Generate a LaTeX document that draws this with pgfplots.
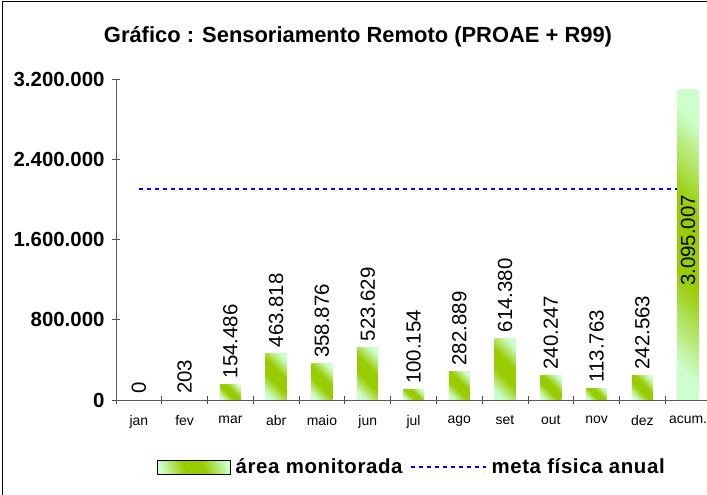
\documentclass[border=0pt]{standalone}
\usepackage{fontspec}
\setmainfont{Liberation Sans}
\usepackage{pgfplots}
\pgfplotsset{compat=1.18}
\usepackage{pgfplotstable}
\definecolor{barg}{HTML}{99CC00}
\definecolor{barl}{HTML}{CCFFCC}
\pgfdeclarehorizontalshading{barshade}{100bp}{color(0bp)=(barl); color(22bp)=(barl); color(42bp)=(barg); color(58bp)=(barg); color(78bp)=(barl); color(100bp)=(barl)}
\pgfplotstableread{
x y
0 0
1 203
2 154486
3 463818
4 358876
5 523629
6 100154
7 282889
8 614380
9 240247
10 113763
11 242563
12 3095007
}\datatable
\begin{document}
\begin{tikzpicture}
\useasboundingbox (0,0) rectangle (707bp,495bp);
\draw[black, line width=1bp] (2bp,-20bp) -- (2bp,493bp) -- (730bp,493bp);
\node at (358bp,458bp) {\fontsize{22}{22}\selectfont\bfseries Gráfico : Sensoriamento Remoto (PROAE + R99)};
\begin{axis}[
  at={(116bp,95bp)}, anchor=south west,
  scale only axis, width=595bp, height=321bp,
  xmin=-0.5, xmax=12.5, ymin=0, ymax=3200000,
  axis x line=bottom, axis y line=left,
  axis line style={-, draw=black!65, line width=1bp},
  every outer x axis line/.append style={-},
  every outer y axis line/.append style={-},
  ytick={0,800000,1600000,2400000,3200000},
  scaled y ticks=false,
  /pgf/number format/fixed,
  /pgf/number format/1000 sep={.},
  /pgf/number format/assume math mode=true,
  yticklabel style={font=\fontsize{20.5}{20.5}\selectfont\bfseries, xshift=-4bp},
  xtick={0,...,12},
  xticklabels={jan,fev,mar,abr,maio,jun,jul,ago,set,out,nov,dez,acum.},
  xticklabel style={font=\fontsize{14}{14}\selectfont, yshift=-8bp},
  major x tick style={draw=none},
  minor xtick={-0.5,0.5,...,12.5},
  major tick length=8bp, minor tick length=8bp, tick align=center,
  tick style={black!70, line width=0.8bp},
  clip=false,
  legend columns=2,
  legend style={at={(axis description cs:0.5,-0.209)}, anchor=center, draw=none, fill=none,
    font=\fontsize{20.5}{20.5}\selectfont\bfseries\addfontfeatures{LetterSpace=3},
    nodes={inner xsep=5bp},
    /tikz/every even column/.append style={column sep=2bp}},
]
\addlegendimage{legend image code/.code={\fill[shading=barshade, shading angle=20] (0bp,-7bp) rectangle (73bp,7bp);}}
\addlegendentry{área monitorada}
\addplot[blue, line width=2bp, dash pattern=on 4bp off 4bp,
  legend image code/.code={\draw[blue, line width=2bp, dash pattern=on 4bp off 4bp] (0bp,0bp) -- (75bp,0bp);}]
  coordinates {(0,2100000) (12,2100000)};
\addlegendentry{meta física anual}
\pgfplotsinvokeforeach{2,...,12}{
\addplot[ybar, bar width=21bp, draw=none, shading=barshade, shading angle=45,
  forget plot, restrict x to domain=#1:#1]
  table[x=x,y=y]{\datatable};
}
\addplot[draw=none, forget plot, nodes near coords, point meta=y,
  restrict x to domain=0:11,
  every node near coord/.append style={rotate=90, anchor=west, inner xsep=6bp, inner ysep=0bp,
    font=\fontsize{20.5}{20.5}\selectfont}]
  table[x=x,y=y]{\datatable};
\addplot[draw=none, forget plot, nodes near coords, point meta=explicit,
  every node near coord/.append style={rotate=90, anchor=center, inner sep=0bp,
    font=\fontsize{20.5}{20.5}\selectfont}]
  coordinates {(12,1590000) [3095007]};
\end{axis}
\end{tikzpicture}
\end{document}
